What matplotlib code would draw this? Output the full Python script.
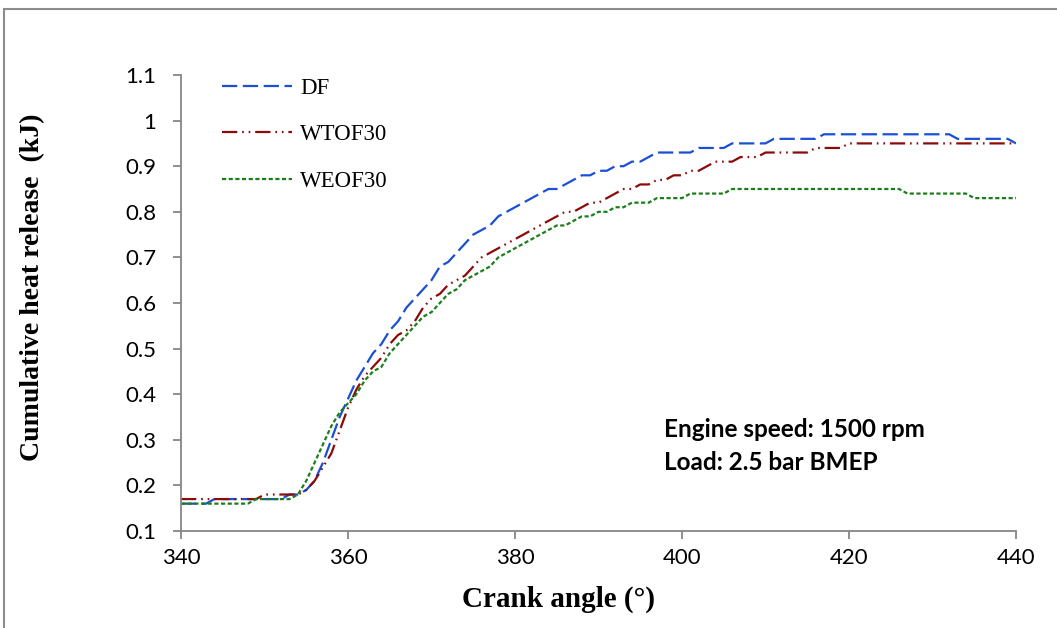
import matplotlib
matplotlib.use("Agg")
import matplotlib.pyplot as plt
from matplotlib.patches import Rectangle

crank_angle = list(range(340, 441))

df = [0.16, 0.16, 0.16, 0.16, 0.17, 0.17, 0.17, 0.17, 0.17, 0.17,
      0.17, 0.17, 0.17, 0.18, 0.18, 0.19, 0.21, 0.25, 0.30, 0.35,
      0.39, 0.43, 0.46, 0.49, 0.51, 0.54, 0.56, 0.59, 0.61, 0.63,
      0.65, 0.68, 0.69, 0.71, 0.73, 0.75, 0.76, 0.77, 0.79, 0.80,
      0.81, 0.82, 0.83, 0.84, 0.85, 0.85, 0.86, 0.87, 0.88, 0.88,
      0.89, 0.89, 0.90, 0.90, 0.91, 0.91, 0.92, 0.93, 0.93, 0.93,
      0.93, 0.93, 0.94, 0.94, 0.94, 0.94, 0.95, 0.95, 0.95, 0.95,
      0.95, 0.96, 0.96, 0.96, 0.96, 0.96, 0.96, 0.97, 0.97, 0.97,
      0.97, 0.97, 0.97, 0.97, 0.97, 0.97, 0.97, 0.97, 0.97, 0.97,
      0.97, 0.97, 0.97, 0.96, 0.96, 0.96, 0.96, 0.96, 0.96, 0.96,
      0.95]

wtof30 = [0.17, 0.17, 0.17, 0.17, 0.17, 0.17, 0.17, 0.17, 0.17, 0.17,
          0.18, 0.18, 0.18, 0.18, 0.18, 0.19, 0.21, 0.24, 0.27, 0.32,
          0.37, 0.41, 0.44, 0.46, 0.48, 0.51, 0.53, 0.54, 0.56, 0.59,
          0.61, 0.62, 0.64, 0.65, 0.66, 0.68, 0.70, 0.71, 0.72, 0.73,
          0.74, 0.75, 0.76, 0.77, 0.78, 0.79, 0.80, 0.80, 0.81, 0.82,
          0.82, 0.83, 0.84, 0.85, 0.85, 0.86, 0.86, 0.87, 0.87, 0.88,
          0.88, 0.89, 0.89, 0.90, 0.91, 0.91, 0.91, 0.92, 0.92, 0.92,
          0.93, 0.93, 0.93, 0.93, 0.93, 0.93, 0.94, 0.94, 0.94, 0.94,
          0.95, 0.95, 0.95, 0.95, 0.95, 0.95, 0.95, 0.95, 0.95, 0.95,
          0.95, 0.95, 0.95, 0.95, 0.95, 0.95, 0.95, 0.95, 0.95, 0.95,
          0.95]

weof30 = [0.16, 0.16, 0.16, 0.16, 0.16, 0.16, 0.16, 0.16, 0.16, 0.17,
          0.17, 0.17, 0.17, 0.17, 0.18, 0.21, 0.25, 0.29, 0.33, 0.36,
          0.38, 0.40, 0.43, 0.45, 0.46, 0.49, 0.51, 0.53, 0.55, 0.57,
          0.58, 0.60, 0.62, 0.63, 0.65, 0.66, 0.67, 0.68, 0.70, 0.71,
          0.72, 0.73, 0.74, 0.75, 0.76, 0.77, 0.77, 0.78, 0.79, 0.79,
          0.80, 0.80, 0.81, 0.81, 0.82, 0.82, 0.82, 0.83, 0.83, 0.83,
          0.83, 0.84, 0.84, 0.84, 0.84, 0.84, 0.85, 0.85, 0.85, 0.85,
          0.85, 0.85, 0.85, 0.85, 0.85, 0.85, 0.85, 0.85, 0.85, 0.85,
          0.85, 0.85, 0.85, 0.85, 0.85, 0.85, 0.85, 0.84, 0.84, 0.84,
          0.84, 0.84, 0.84, 0.84, 0.84, 0.83, 0.83, 0.83, 0.83, 0.83,
          0.83]

series_labels = ["DF", "WTOF30", "WEOF30"]
x_ticks = [340, 360, 380, 400, 420, 440]
y_ticks = [0.1, 0.2, 0.3, 0.4, 0.5, 0.6, 0.7, 0.8, 0.9, 1.0, 1.1]
y_tick_labels = ["0.1", "0.2", "0.3", "0.4", "0.5", "0.6", "0.7", "0.8", "0.9", "1", "1.1"]

plt.rcParams['lines.scale_dashes'] = False

W, H = 1057, 628
fig = plt.figure(figsize=(W / 100, H / 100), dpi=100)
ax = fig.add_axes([181 / W, 1 - 531 / H, (1016 - 181) / W, (531 - 75) / H])

grey = "#868686"
ax.plot(crank_angle, df, color="#1a4fd6", lw=1.6, linestyle=(0, (11, 4)), label=series_labels[0])
ax.plot(crank_angle, wtof30, color="#8b0a0a", lw=1.6,
        linestyle=(0, (11, 3.5, 1.2, 3.5, 1.2, 3.5)), label=series_labels[1])
ax.plot(crank_angle, weof30, color="#1a7f1a", lw=1.6, linestyle=(0, (3, 1.8)), label=series_labels[2])

ax.set_xlim(340, 440)
ax.set_ylim(0.1, 1.1)
ax.set_xticks(x_ticks)
ax.set_yticks(y_ticks)
ax.set_yticklabels(y_tick_labels)

for s in ["top", "right"]:
    ax.spines[s].set_visible(False)
for s in ["left", "bottom"]:
    ax.spines[s].set_color(grey)
    ax.spines[s].set_linewidth(1.3)
ax.tick_params(axis="both", direction="out", width=1.3, color=grey, labelsize=16)
ax.tick_params(axis="y", length=6, pad=12)
ax.tick_params(axis="x", length=5.5, pad=7)
for lab in ax.get_xticklabels() + ax.get_yticklabels():
    lab.set_family(["Lato", "DejaVu Sans"])

ax.set_xlabel("Crank angle (°)", family=["Liberation Serif", "DejaVu Serif"],
              fontweight="bold", fontsize=21)
ax.xaxis.set_label_coords((558 - 181) / 835, (531 - 586) / 456)
ax.set_ylabel("Cumulative heat release  (kJ)", family=["Liberation Serif", "DejaVu Serif"],
              fontweight="bold", fontsize=20)
ax.yaxis.set_label_coords((45 - 181) / 835, (531 - 287) / 456)

leg = ax.legend(loc="upper left", bbox_to_anchor=(222 / W, 1 - 78 / H),
                bbox_transform=fig.transFigure, frameon=False,
                prop={"family": ["Liberation Serif", "DejaVu Serif"], "size": 16.5},
                handlelength=3.05, handletextpad=0.35, labelspacing=1.1,
                borderaxespad=0, borderpad=0)

ax.text(664 / W, 1 - 446 / H, "Engine speed: 1500 rpm\nLoad: 2.5 bar BMEP",
        transform=fig.transFigure, family=["Lato", "DejaVu Sans"], fontweight="bold",
        fontsize=17.5, va="center", ha="left", linespacing=1.55)

fig.patches.append(Rectangle((3.5, -5), W + 10, H - 5 + 1.5, transform=None,
                             fill=False, edgecolor="#8c8c8c", lw=1.5))

fig.savefig("out.png", dpi=100)
